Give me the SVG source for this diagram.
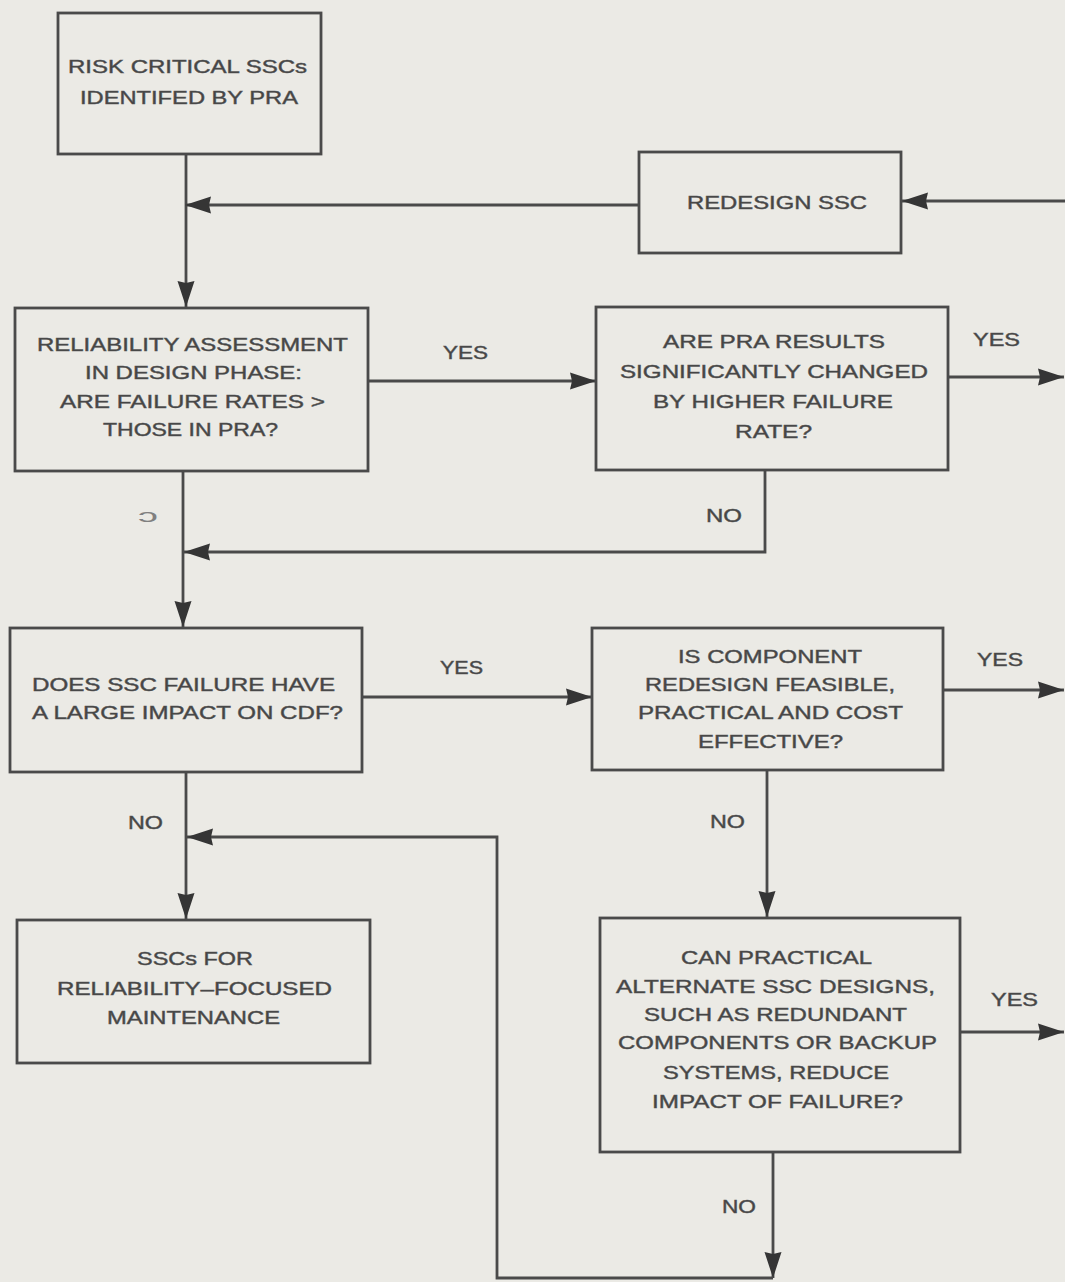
<svg xmlns="http://www.w3.org/2000/svg" width="1065" height="1282" viewBox="0 0 1065 1282">
  <style>
    .box { fill: none; stroke: #4a4a4a; stroke-width: 2.8; }
    .wire { fill: none; stroke: #4a4a4a; stroke-width: 2.8; }
    .t, .lbl { font-family: "Liberation Sans", Arial, sans-serif; font-size: 18px; fill: #444; stroke: #555; stroke-width: 0.45; }
  </style>
  <defs>
    <!-- solid dart-shaped arrowhead, tip at the path end -->
    <marker id="head" markerUnits="userSpaceOnUse" markerWidth="27" markerHeight="19" refX="26" refY="9.5" orient="auto">
      <path d="M0,1 L26,9.5 L0,18 L2,9.5 z" fill="#353535"/>
    </marker>
  </defs>

  <rect x="0" y="0" width="1065" height="1282" fill="#ebeae5"/>

  <!-- connectors -->
  <g id="connectors">
    <path class="wire" d="M186,154 V307" marker-end="url(#head)"/>
    <path class="wire" d="M639,205 H185" marker-end="url(#head)"/>
    <path class="wire" d="M1065,201 H902" marker-end="url(#head)"/>
    <path class="wire" d="M368,381 H596" marker-end="url(#head)"/>
    <path class="wire" d="M948,377 H1064" marker-end="url(#head)"/>
    <path class="wire" d="M183,471 V627" marker-end="url(#head)"/>
    <path class="wire" d="M765,470 V552 H184" marker-end="url(#head)"/>
    <path class="wire" d="M362,697 H592" marker-end="url(#head)"/>
    <path class="wire" d="M943,690 H1064" marker-end="url(#head)"/>
    <path class="wire" d="M186,772 V919" marker-end="url(#head)"/>
    <path class="wire" d="M767,770 V917" marker-end="url(#head)"/>
    <path class="wire" d="M960,1032 H1064" marker-end="url(#head)"/>
    <path class="wire" d="M773,1152 V1278" marker-end="url(#head)"/>
    <path class="wire" d="M773,1278 H497 V837 H187" marker-end="url(#head)"/>

    <text class="lbl" x="443" y="359" textLength="45" lengthAdjust="spacingAndGlyphs">YES</text>
    <text class="lbl" x="973" y="346" textLength="47" lengthAdjust="spacingAndGlyphs">YES</text>
    <text class="lbl" x="138" y="522" textLength="20" lengthAdjust="spacingAndGlyphs" style="fill:#808080;stroke:none">ↄ</text>
    <text class="lbl" x="706" y="522" textLength="36" lengthAdjust="spacingAndGlyphs">NO</text>
    <text class="lbl" x="440" y="674" textLength="43" lengthAdjust="spacingAndGlyphs">YES</text>
    <text class="lbl" x="977" y="666" textLength="46" lengthAdjust="spacingAndGlyphs">YES</text>
    <text class="lbl" x="128" y="829" textLength="35" lengthAdjust="spacingAndGlyphs">NO</text>
    <text class="lbl" x="710" y="828" textLength="35" lengthAdjust="spacingAndGlyphs">NO</text>
    <text class="lbl" x="991" y="1006" textLength="47" lengthAdjust="spacingAndGlyphs">YES</text>
    <text class="lbl" x="722" y="1213" textLength="34" lengthAdjust="spacingAndGlyphs">NO</text>
  </g>

  <!-- nodes -->
  <g id="risk-critical">
    <rect class="box" x="58" y="13" width="263" height="141"/>
    <text class="t" x="68" y="73" textLength="239" lengthAdjust="spacingAndGlyphs">RISK CRITICAL SSCs</text>
    <text class="t" x="80" y="104" textLength="218" lengthAdjust="spacingAndGlyphs">IDENTIFED BY PRA</text>
  </g>

  <g id="redesign">
    <rect class="box" x="639" y="152" width="262" height="101"/>
    <text class="t" x="687" y="209" textLength="180" lengthAdjust="spacingAndGlyphs">REDESIGN SSC</text>
  </g>

  <g id="reliability-assessment">
    <rect class="box" x="15" y="308" width="353" height="163"/>
    <text class="t" x="37" y="351" textLength="311" lengthAdjust="spacingAndGlyphs">RELIABILITY ASSESSMENT</text>
    <text class="t" x="85" y="379" textLength="217" lengthAdjust="spacingAndGlyphs">IN DESIGN PHASE:</text>
    <text class="t" x="60" y="408" textLength="265" lengthAdjust="spacingAndGlyphs">ARE FAILURE RATES &gt;</text>
    <text class="t" x="103" y="436" textLength="175" lengthAdjust="spacingAndGlyphs">THOSE IN PRA?</text>
  </g>

  <g id="pra-results">
    <rect class="box" x="596" y="307" width="352" height="163"/>
    <text class="t" x="663" y="348" textLength="222" lengthAdjust="spacingAndGlyphs">ARE PRA RESULTS</text>
    <text class="t" x="620" y="378" textLength="308" lengthAdjust="spacingAndGlyphs">SIGNIFICANTLY CHANGED</text>
    <text class="t" x="653" y="408" textLength="240" lengthAdjust="spacingAndGlyphs">BY HIGHER FAILURE</text>
    <text class="t" x="735" y="438" textLength="77" lengthAdjust="spacingAndGlyphs">RATE?</text>
  </g>

  <g id="cdf-impact">
    <rect class="box" x="10" y="628" width="352" height="144"/>
    <text class="t" x="32" y="691" textLength="303" lengthAdjust="spacingAndGlyphs">DOES SSC FAILURE HAVE</text>
    <text class="t" x="32" y="719" textLength="311" lengthAdjust="spacingAndGlyphs">A LARGE IMPACT ON CDF?</text>
  </g>

  <g id="component-redesign">
    <rect class="box" x="592" y="628" width="351" height="142"/>
    <text class="t" x="678" y="663" textLength="184" lengthAdjust="spacingAndGlyphs">IS COMPONENT</text>
    <text class="t" x="645" y="691" textLength="250" lengthAdjust="spacingAndGlyphs">REDESIGN FEASIBLE,</text>
    <text class="t" x="638" y="719" textLength="265" lengthAdjust="spacingAndGlyphs">PRACTICAL AND COST</text>
    <text class="t" x="698" y="748" textLength="145" lengthAdjust="spacingAndGlyphs">EFFECTIVE?</text>
  </g>

  <g id="reliability-maintenance">
    <rect class="box" x="17" y="920" width="353" height="143"/>
    <text class="t" x="137" y="965" textLength="116" lengthAdjust="spacingAndGlyphs">SSCs FOR</text>
    <text class="t" x="57" y="995" textLength="275" lengthAdjust="spacingAndGlyphs">RELIABILITY–FOCUSED</text>
    <text class="t" x="107" y="1024" textLength="173" lengthAdjust="spacingAndGlyphs">MAINTENANCE</text>
  </g>

  <g id="alternate-designs">
    <rect class="box" x="600" y="918" width="360" height="234"/>
    <text class="t" x="681" y="964" textLength="191" lengthAdjust="spacingAndGlyphs">CAN PRACTICAL</text>
    <text class="t" x="616" y="993" textLength="319" lengthAdjust="spacingAndGlyphs">ALTERNATE SSC DESIGNS,</text>
    <text class="t" x="644" y="1021" textLength="263" lengthAdjust="spacingAndGlyphs">SUCH AS REDUNDANT</text>
    <text class="t" x="618" y="1049" textLength="319" lengthAdjust="spacingAndGlyphs">COMPONENTS OR BACKUP</text>
    <text class="t" x="663" y="1079" textLength="226" lengthAdjust="spacingAndGlyphs">SYSTEMS, REDUCE</text>
    <text class="t" x="652" y="1108" textLength="251" lengthAdjust="spacingAndGlyphs">IMPACT OF FAILURE?</text>
  </g>
</svg>
